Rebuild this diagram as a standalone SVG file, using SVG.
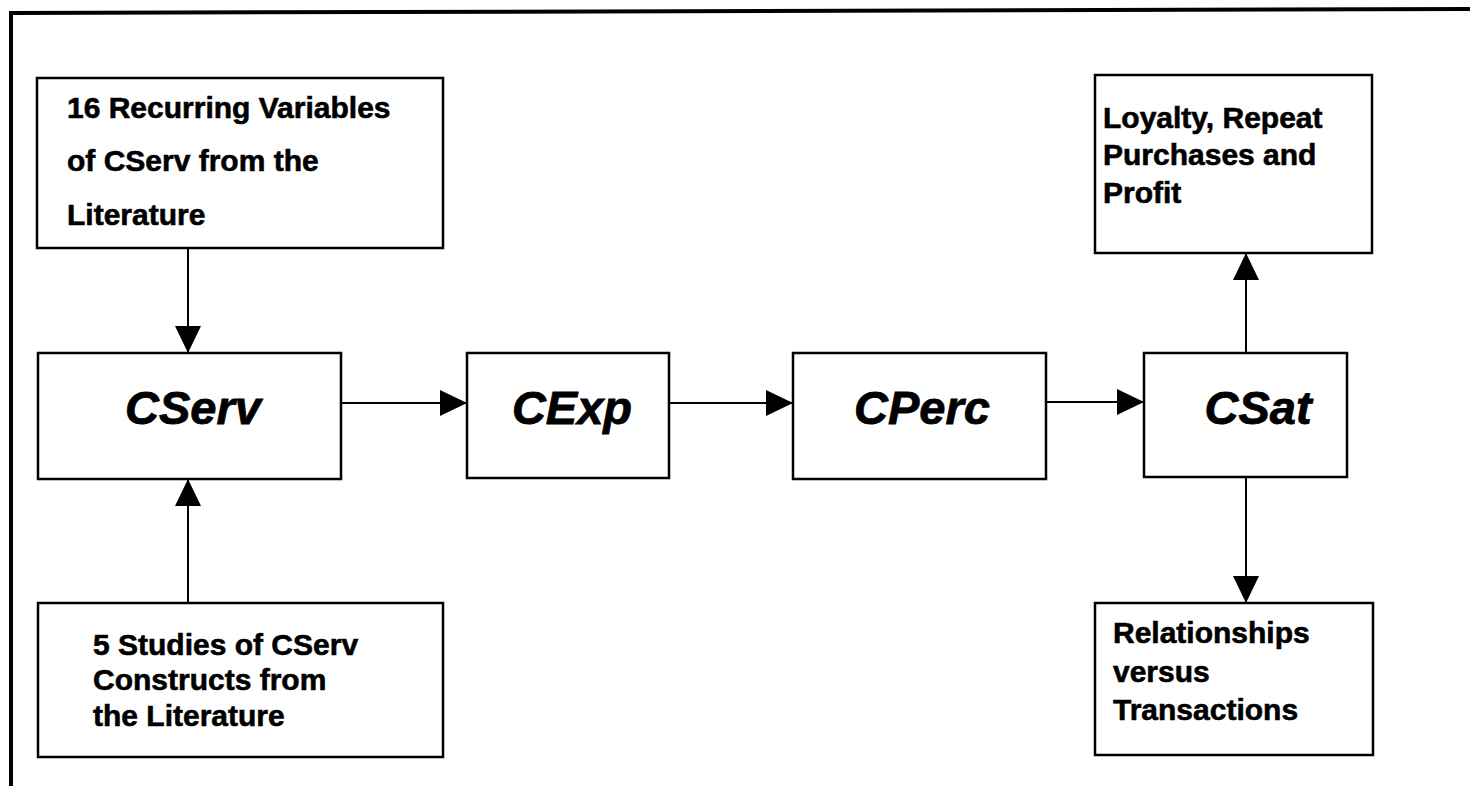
<svg xmlns="http://www.w3.org/2000/svg" width="1470" height="786" viewBox="0 0 1470 786">
  <style>
    .box { fill: #ffffff; stroke: #000000; stroke-width: 2.5; }
    .lbl { font-family: "Liberation Sans", Arial, sans-serif; font-weight: bold; font-size: 30px; fill: #000000; stroke: #000000; stroke-width: 0.6; }
    .key { font-family: "Liberation Sans", Arial, sans-serif; font-weight: bold; font-style: italic; font-size: 47px; fill: #000000; stroke: #000000; stroke-width: 0.8; text-anchor: middle; }
    .link { fill: none; stroke: #000000; stroke-width: 2; marker-end: url(#head); }
    .frame { fill: none; stroke: #000000; stroke-width: 4; }
  </style>
  <defs>
    <marker id="head" markerUnits="userSpaceOnUse" markerWidth="28" markerHeight="26" refX="27" refY="13" orient="auto">
      <path d="M0,0 L27,13 L0,26 z" fill="#000000"/>
    </marker>
  </defs>

  <rect x="0" y="0" width="1470" height="786" fill="#ffffff"/>

  <!-- frame: top and left rules -->
  <path class="frame" d="M11,786 L11,13 L1470,9"/>

  <!-- connectors -->
  <g id="connectors">
    <line class="link" x1="188" y1="248" x2="188" y2="353"/>
    <line class="link" x1="188" y1="603" x2="188" y2="479"/>
    <line class="link" x1="341" y1="403" x2="467" y2="403"/>
    <line class="link" x1="669" y1="403" x2="793" y2="403"/>
    <line class="link" x1="1046" y1="402" x2="1144" y2="402"/>
    <line class="link" x1="1246" y1="353" x2="1246" y2="253"/>
    <line class="link" x1="1246" y1="477" x2="1246" y2="603"/>
  </g>

  <g id="node-variables">
    <rect class="box" x="37" y="78" width="406" height="170"/>
    <text class="lbl" x="67" y="118">16 Recurring Variables</text>
    <text class="lbl" x="67" y="171">of CServ from the</text>
    <text class="lbl" x="67" y="225">Literature</text>
  </g>

  <g id="node-cserv">
    <rect class="box" x="38" y="353" width="303" height="126"/>
    <text class="key" x="193" y="424">CServ</text>
  </g>

  <g id="node-studies">
    <rect class="box" x="38" y="603" width="405" height="154"/>
    <text class="lbl" x="93" y="655">5 Studies of CServ</text>
    <text class="lbl" x="93" y="690">Constructs from</text>
    <text class="lbl" x="93" y="726">the Literature</text>
  </g>

  <g id="node-cexp">
    <rect class="box" x="467" y="353" width="202" height="125"/>
    <text class="key" x="572" y="424">CExp</text>
  </g>

  <g id="node-cperc">
    <rect class="box" x="793" y="353" width="253" height="126"/>
    <text class="key" x="922" y="424">CPerc</text>
  </g>

  <g id="node-csat">
    <rect class="box" x="1144" y="353" width="203" height="124"/>
    <text class="key" x="1258" y="424">CSat</text>
  </g>

  <g id="node-loyalty">
    <rect class="box" x="1095" y="75" width="277" height="178"/>
    <text class="lbl" x="1103" y="128">Loyalty, Repeat</text>
    <text class="lbl" x="1103" y="165">Purchases and</text>
    <text class="lbl" x="1103" y="203">Profit</text>
  </g>

  <g id="node-relationships">
    <rect class="box" x="1095" y="603" width="278" height="152"/>
    <text class="lbl" x="1113" y="643">Relationships</text>
    <text class="lbl" x="1113" y="682">versus</text>
    <text class="lbl" x="1113" y="720">Transactions</text>
  </g>
</svg>
